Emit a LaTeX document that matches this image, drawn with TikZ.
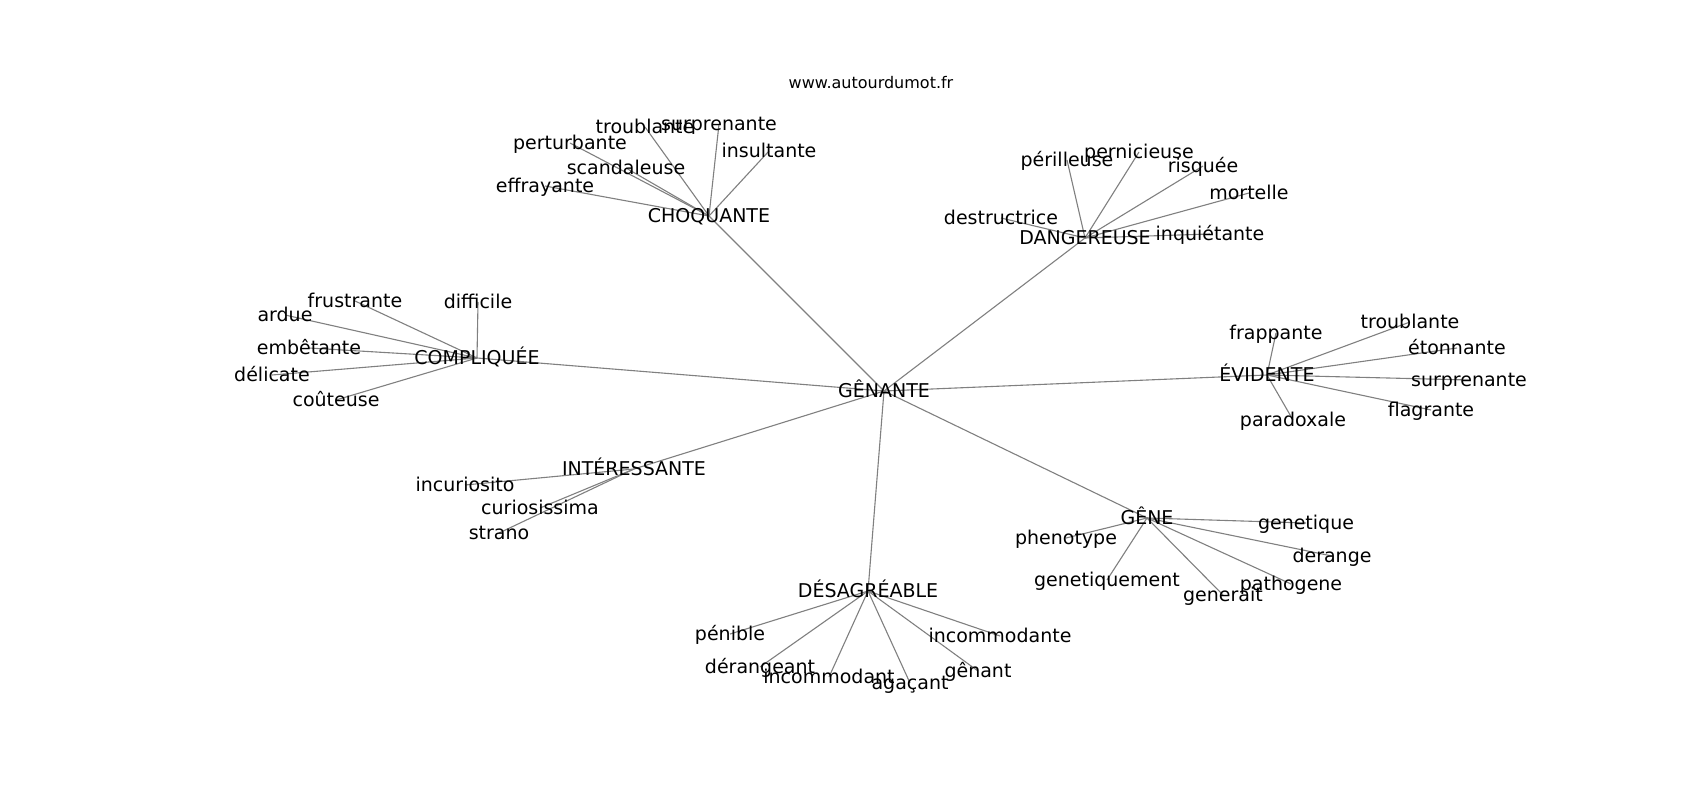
\documentclass[tikz,border=0pt]{standalone}
\usepackage{fontspec}
\setmainfont{DejaVu Sans}
\pgfdeclarelayer{bg}
\pgfsetlayers{bg,main}
\begin{document}
\begin{tikzpicture}[x=1pt,y=-1pt,
  lbl/.style={font=\fontsize{19}{22}\selectfont, inner sep=0pt, text height=13pt, text depth=0pt},
  ttl/.style={font=\fontsize{16}{19}\selectfont, inner sep=0pt, text height=13pt, text depth=0pt},
  edge/.style={draw=gray, line width=1.1pt}]
\useasboundingbox (0,0) rectangle (1700,800);
\node[ttl] (title) at (871,82) {www.autourdumot.fr};
% hub
\node[lbl] (g) at (884,391) {GÊNANTE};
% CHOQUANTE
\node[lbl] (c1) at (709,216) {CHOQUANTE};
\node[lbl] (c1a) at (545,186) {effrayante};
\node[lbl] (c1b) at (570,143) {perturbante};
\node[lbl] (c1c) at (626,168) {scandaleuse};
\node[lbl] (c1d) at (645,127) {troublante};
\node[lbl] (c1e) at (719,124) {surprenante};
\node[lbl] (c1f) at (769,151) {insultante};
% DANGEREUSE
\node[lbl] (c2) at (1085,238) {DANGEREUSE};
\node[lbl] (c2a) at (1067,160) {périlleuse};
\node[lbl] (c2b) at (1139,152) {pernicieuse};
\node[lbl] (c2c) at (1203,166) {risquée};
\node[lbl] (c2d) at (1249,193) {mortelle};
\node[lbl] (c2e) at (1001,218) {destructrice};
\node[lbl] (c2f) at (1210,234) {inquiétante};
% COMPLIQUEE
\node[lbl] (c3) at (477,358) {COMPLIQUÉE};
\node[lbl] (c3a) at (355,301) {frustrante};
\node[lbl] (c3b) at (478,302) {difficile};
\node[lbl] (c3c) at (285,315) {ardue};
\node[lbl] (c3d) at (309,348) {embêtante};
\node[lbl] (c3e) at (272,375) {délicate};
\node[lbl] (c3f) at (336,400) {coûteuse};
% EVIDENTE
\node[lbl] (c4) at (1267,375) {ÉVIDENTE};
\node[lbl] (c4a) at (1276,333) {frappante};
\node[lbl] (c4b) at (1410,322) {troublante};
\node[lbl] (c4c) at (1457,348) {étonnante};
\node[lbl] (c4d) at (1469,380) {surprenante};
\node[lbl] (c4e) at (1431,410) {flagrante};
\node[lbl] (c4f) at (1293,420) {paradoxale};
% INTERESSANTE
\node[lbl] (c5) at (634,469) {INTÉRESSANTE};
\node[lbl] (c5a) at (465,485) {incuriosito};
\node[lbl] (c5b) at (540,508) {curiosissima};
\node[lbl] (c5c) at (499,533) {strano};
% GENE
\node[lbl] (c6) at (1147,518) {GÊNE};
\node[lbl] (c6a) at (1066,538) {phenotype};
\node[lbl] (c6b) at (1306,523) {genetique};
\node[lbl] (c6c) at (1332,556) {derange};
\node[lbl] (c6d) at (1107,580) {genetiquement};
\node[lbl] (c6e) at (1291,584) {pathogene};
\node[lbl] (c6f) at (1223,595) {generait};
% DESAGREABLE
\node[lbl] (c7) at (868,591) {DÉSAGRÉABLE};
\node[lbl] (c7a) at (730,634) {pénible};
\node[lbl] (c7b) at (1000,636) {incommodante};
\node[lbl] (c7c) at (760,667) {dérangeant};
\node[lbl] (c7d) at (829,677) {incommodant};
\node[lbl] (c7e) at (910,683) {agaçant};
\node[lbl] (c7f) at (978,671) {gênant};
\begin{pgfonlayer}{bg}
\fill[white] (0,0) rectangle (1700,800);
\foreach \c in {c1,c2,c3,c4,c5,c6,c7}{
  \draw[edge] (g.center) -- (\c.center);
}
\foreach \c in {c1,c2,c3,c4,c6,c7}{
  \foreach \l in {a,b,c,d,e,f}{
    \draw[edge] (\c.center) -- (\c\l.center);
  }
}
\foreach \l in {a,b,c}{
  \draw[edge] (c5.center) -- (c5\l.center);
}
\end{pgfonlayer}
\end{tikzpicture}
\end{document}
